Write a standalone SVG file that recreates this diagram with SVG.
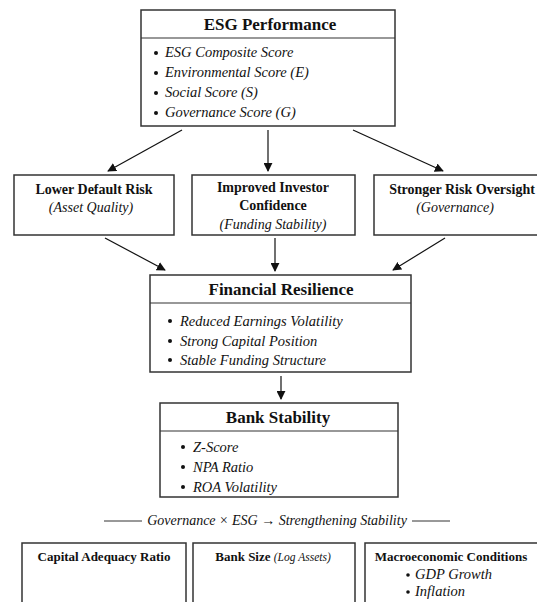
<svg xmlns="http://www.w3.org/2000/svg" width="537" height="602" viewBox="0 0 537 602">
<defs>
<marker id="ah" viewBox="0 0 10 10" refX="9" refY="5" markerWidth="9" markerHeight="9" markerUnits="userSpaceOnUse" orient="auto">
<path d="M0,0 L10,5 L0,10 z" fill="#111"/>
</marker>
<style>
.box{fill:#fff;stroke:#333;stroke-width:1.5}
.div{stroke:#333;stroke-width:1.2}
.t{font-family:"Liberation Serif","DejaVu Serif",serif;fill:#111}
.h{font-weight:bold;font-size:17px;text-anchor:middle}
.hs{font-weight:bold;font-size:14px;text-anchor:middle}
.hb{font-weight:bold;font-size:13px;text-anchor:middle}
.i{font-style:italic;font-size:14.5px}
.ic{font-style:italic;font-size:14px;text-anchor:middle}
.dot{fill:#111}
.c{stroke:#111;stroke-width:1.2;fill:none;marker-end:url(#ah)}
</style>
</defs>
<rect width="537" height="602" fill="#fff"/>

<g id="esg">
<rect class="box" x="141" y="10" width="254" height="116"/>
<line class="div" x1="141" y1="38" x2="395" y2="38"/>
<text class="t h" x="270" y="30">ESG Performance</text>
<circle class="dot" cx="156" cy="53" r="2"/>
<circle class="dot" cx="156" cy="73" r="2"/>
<circle class="dot" cx="156" cy="93" r="2"/>
<circle class="dot" cx="156" cy="113" r="2"/>
<text class="t i" x="165" y="57">ESG Composite Score</text>
<text class="t i" x="165" y="77">Environmental Score (E)</text>
<text class="t i" x="165" y="97">Social Score (S)</text>
<text class="t i" x="165" y="117">Governance Score (G)</text>
</g>

<g id="default">
<rect class="box" x="14" y="175" width="160" height="60"/>
<text class="t hs" x="94" y="194">Lower Default Risk</text>
<text class="t ic" x="91" y="212">(Asset Quality)</text>
</g>

<g id="investor">
<rect class="box" x="192" y="175" width="163" height="60"/>
<text class="t hs" x="273" y="192">Improved Investor</text>
<text class="t hs" x="273" y="210">Confidence</text>
<text class="t ic" x="273" y="229">(Funding Stability)</text>
</g>

<g id="oversight">
<rect class="box" x="374" y="175" width="170" height="60"/>
<text class="t hs" x="462" y="194">Stronger Risk Oversight</text>
<text class="t ic" x="455" y="212">(Governance)</text>
</g>

<g id="resilience">
<rect class="box" x="150" y="275" width="261" height="97"/>
<line class="div" x1="150" y1="303" x2="411" y2="303"/>
<text class="t h" x="281" y="295">Financial Resilience</text>
<circle class="dot" cx="170" cy="321" r="2"/>
<circle class="dot" cx="170" cy="341" r="2"/>
<circle class="dot" cx="170" cy="360" r="2"/>
<text class="t i" x="180" y="326">Reduced Earnings Volatility</text>
<text class="t i" x="180" y="346">Strong Capital Position</text>
<text class="t i" x="180" y="365">Stable Funding Structure</text>
</g>

<g id="stability">
<rect class="box" x="160" y="403" width="238" height="94"/>
<line class="div" x1="160" y1="431" x2="398" y2="431"/>
<text class="t h" x="278" y="423">Bank Stability</text>
<circle class="dot" cx="183" cy="447" r="2"/>
<circle class="dot" cx="183" cy="467" r="2"/>
<circle class="dot" cx="183" cy="487" r="2"/>
<text class="t i" x="193" y="452">Z-Score</text>
<text class="t i" x="193" y="472">NPA Ratio</text>
<text class="t i" x="193" y="492">ROA Volatility</text>
</g>

<g id="moderator">
<line x1="104" y1="521" x2="142" y2="521" stroke="#333" stroke-width="1"/>
<line x1="412" y1="521" x2="450" y2="521" stroke="#333" stroke-width="1"/>
<text class="t ic" x="277" y="525" font-size="11">Governance × ESG → Strengthening Stability</text>
</g>

<g id="car">
<rect class="box" x="22" y="543" width="164" height="70"/>
<text class="t hb" x="104" y="561">Capital Adequacy Ratio</text>
</g>

<g id="size">
<rect class="box" x="193" y="543" width="162" height="70"/>
<text class="t hb" x="273" y="561">Bank Size <tspan font-weight="normal" font-style="italic" font-size="11.5">(Log Assets)</tspan></text>
</g>

<g id="macro">
<rect class="box" x="365" y="543" width="180" height="70"/>
<text class="t hb" x="451" y="561">Macroeconomic Conditions</text>
<circle class="dot" cx="408" cy="575" r="1.8"/>
<circle class="dot" cx="408" cy="592" r="1.8"/>
<text class="t i" x="415" y="579" font-size="12.5">GDP Growth</text>
<text class="t i" x="415" y="596" font-size="12.5">Inflation</text>
</g>

<g id="connectors">
<line class="c" x1="182" y1="130" x2="108" y2="171"/>
<line class="c" x1="268" y1="130" x2="268" y2="171"/>
<line class="c" x1="353" y1="130" x2="443" y2="171"/>
<line class="c" x1="105" y1="238" x2="165" y2="270"/>
<line class="c" x1="275" y1="238" x2="275" y2="271"/>
<line class="c" x1="445" y1="238" x2="393" y2="270"/>
<line class="c" x1="281" y1="376" x2="281" y2="399"/>
</g>
</svg>
